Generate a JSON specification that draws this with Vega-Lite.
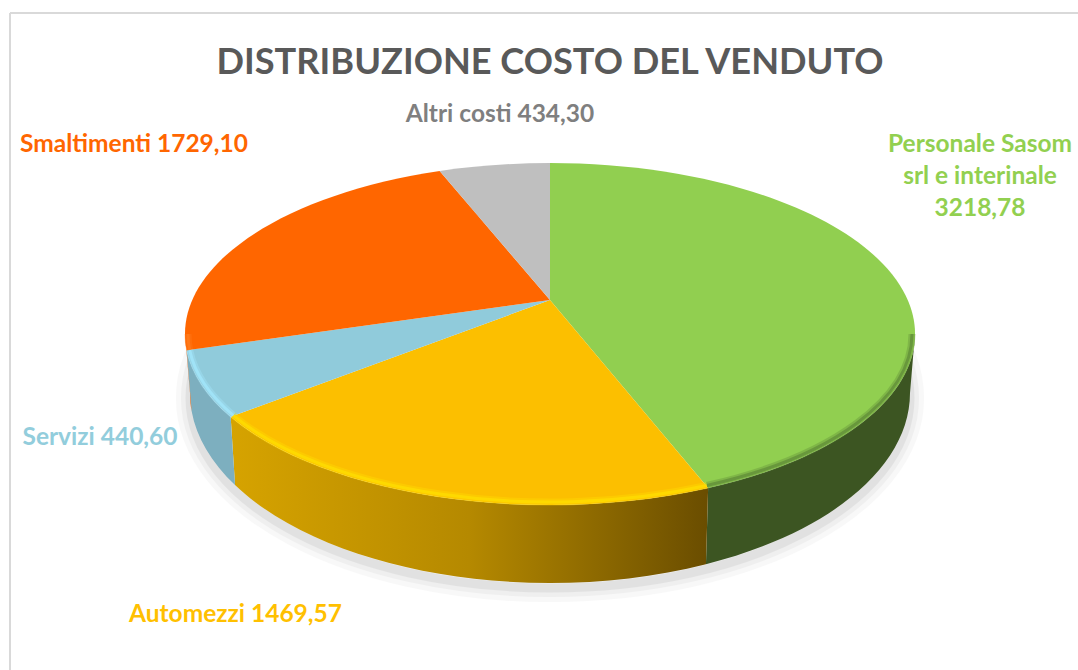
{"$schema":"https://vega.github.io/schema/vega-lite/v6.json","width":1078,"height":670,"padding":0,"autosize":{"type":"none"},"background":"white","config":{"view":{"stroke":null}},
"title":{"text":"DISTRIBUZIONE COSTO DEL VENDUTO","font":"Lato","fontSize":36.2,"fontWeight":"bold","color":"#595959","anchor":"middle","frame":"group","offset":-81,"dx":11},
"data":{"values":[
{"name":"Personale","order":1,"value":3218.78,"label":"Personale Sasom\nsrl e interinale\n3218,78"},
{"name":"Automezzi","order":2,"value":1469.57,"label":"Automezzi 1469,57"},
{"name":"Servizi","order":3,"value":440.60,"label":"Servizi 440,60"},
{"name":"Smaltimenti","order":4,"value":1729.10,"label":"Smaltimenti 1729,10"},
{"name":"Altri costi","order":5,"value":434.30,"label":"Altri costi 434,30"}]},
"transform":[
{"window":[{"op":"sum","field":"value","as":"cum"}],"sort":[{"field":"order"}]},
{"joinaggregate":[{"op":"sum","field":"value","as":"total"}]},
{"calculate":"2*PI*(datum.cum-datum.value)/datum.total","as":"t1"},
{"calculate":"2*PI*datum.cum/datum.total","as":"t2"},
{"calculate":"357.7*sin(datum.t1)/(1+0.199*cos(datum.t1))","as":"x1"},
{"calculate":"-164.2*cos(datum.t1)/(1+0.199*cos(datum.t1))","as":"y1"},
{"calculate":"357.7*sin(datum.t2)/(1+0.199*cos(datum.t2))","as":"x2"},
{"calculate":"-164.2*cos(datum.t2)/(1+0.199*cos(datum.t2))","as":"y2"},
{"calculate":"atan2(datum.x1/365,(34-datum.y1)/171)","as":"f1r"},
{"calculate":"atan2(datum.x2/365,(34-datum.y2)/171)","as":"f2r"},
{"calculate":"datum.f1r<0?datum.f1r+2*PI:datum.f1r","as":"f1"},
{"calculate":"datum.f2r<0?datum.f2r+2*PI:datum.f2r","as":"f2"},
{"calculate":"'M0 0L'+(365*sin(datum.f1))+' '+(34-171*cos(datum.f1))+'A365 171 0 '+(datum.f2-datum.f1>PI?1:0)+' 1 '+(365*sin(datum.f2))+' '+(34-171*cos(datum.f2))+'Z'","as":"face"},
{"calculate":"max(datum.f1,PI/2)","as":"s"},
{"calculate":"min(datum.f2,3*PI/2)","as":"e"},
{"calculate":"'M'+(365*sin(datum.s))+' '+(34-171*cos(datum.s))+'A365 171 0 0 1 '+(365*sin(datum.e))+' '+(34-171*cos(datum.e))+'L'+(360*sin(datum.e))+' '+(93-190*cos(datum.e))+'A360 190 0 0 0 '+(360*sin(datum.s))+' '+(93-190*cos(datum.s))+'Z'","as":"wall"},
{"calculate":"'M'+(362*sin(datum.s))+' '+(34-168*cos(datum.s))+'A362 168 0 0 1 '+(362*sin(datum.e))+' '+(34-168*cos(datum.e))","as":"rim"},
{"calculate":"{'Personale':430,'Automezzi':-314.5,'Servizi':-450,'Smaltimenti':-416,'Altri costi':-50}[datum.name]","as":"lx"},
{"calculate":"{'Personale':-155,'Automezzi':315,'Servizi':138,'Smaltimenti':-155,'Altri costi':-185}[datum.name]","as":"ly"}
],
"layer":[
{"encoding":{
"x":{"datum":0,"type":"quantitative","scale":{"domain":[-550,528],"range":[0,1078],"nice":false,"zero":false},"axis":null},
"y":{"datum":0,"type":"quantitative","scale":{"domain":[-300,370],"range":[0,670],"nice":false,"zero":false},"axis":null}
},
"layer":[
{"data":{"values":[{}]},"mark":{"type":"rule","color":"#d9d9d9","strokeWidth":2},"encoding":{"x":{"datum":-540,"type":"quantitative"},"y":{"datum":-287,"type":"quantitative"},"y2":{"datum":370}}},
{"data":{"values":[{}]},"mark":{"type":"rule","color":"#d9d9d9","strokeWidth":2},"encoding":{"x":{"datum":-540,"type":"quantitative"},"x2":{"datum":528},"y":{"datum":-287,"type":"quantitative"}}},
{"data":{"values":[{}]},"mark":{"type":"point","filled":false,"stroke":"#000000","strokeWidth":28,"opacity":0.025,"size":4,"shape":"M360 98A360 190 0 1 1 -360 98A360 190 0 1 1 360 98Z"},"encoding":{}},
{"data":{"values":[{}]},"mark":{"type":"point","filled":false,"stroke":"#000000","strokeWidth":18,"opacity":0.03,"size":4,"shape":"M360 98A360 190 0 1 1 -360 98A360 190 0 1 1 360 98Z"},"encoding":{}},
{"data":{"values":[{}]},"mark":{"type":"point","filled":false,"stroke":"#000000","strokeWidth":9,"opacity":0.05,"size":4,"shape":"M360 98A360 190 0 1 1 -360 98A360 190 0 1 1 360 98Z"},"encoding":{}},
{"transform":[{"filter":"datum.name==='Personale'"}],"mark":{"type":"point","filled":true,"opacity":1,"size":4,"fill":"#3c5522"},"encoding":{"shape":{"field":"wall","type":"nominal","scale":null,"legend":null}}},
{"transform":[{"filter":"datum.name==='Automezzi'"}],"mark":{"type":"point","filled":true,"opacity":1,"size":4,"fill":{"x1":0,"y1":0,"x2":1,"y2":0,"gradient":"linear","stops":[{"offset":0,"color":"#d6a300"},{"offset":0.5,"color":"#b58900"},{"offset":1,"color":"#6a4d00"}]}},"encoding":{"shape":{"field":"wall","type":"nominal","scale":null,"legend":null}}},
{"transform":[{"filter":"datum.name==='Servizi'"}],"mark":{"type":"point","filled":true,"opacity":1,"size":4,"fill":"#7dafbf"},"encoding":{"shape":{"field":"wall","type":"nominal","scale":null,"legend":null}}},
{"transform":[{"filter":"datum.name==='Smaltimenti'"}],"mark":{"type":"point","filled":true,"opacity":1,"size":4,"fill":"#d85a00"},"encoding":{"shape":{"field":"wall","type":"nominal","scale":null,"legend":null}}},
{"mark":{"type":"point","filled":true,"opacity":1,"size":4},"encoding":{"shape":{"field":"face","type":"nominal","scale":null,"legend":null},"fill":{"field":"name","type":"nominal","scale":{"domain":["Personale","Automezzi","Servizi","Smaltimenti","Altri costi"],"range":["#91cf50","#fcbf00","#90cbdb","#ff6600","#bfbfbf"]},"legend":null}}},
{"transform":[{"filter":"datum.f2>PI/2&&datum.f1<3*PI/2"}],"mark":{"type":"point","filled":false,"opacity":0.35,"size":4,"strokeWidth":7},"encoding":{"shape":{"field":"rim","type":"nominal","scale":null,"legend":null},"stroke":{"field":"name","type":"nominal","scale":{"domain":["Personale","Automezzi","Servizi","Smaltimenti","Altri costi"],"range":["#5f8a38","#ffe000","#a5e9ff","#ff7f20","#bfbfbf"]},"legend":null}}},
{"transform":[{"filter":"datum.f2>PI/2&&datum.f1<3*PI/2"}],"mark":{"type":"point","filled":false,"opacity":0.7,"size":4,"strokeWidth":3},"encoding":{"shape":{"field":"rim","type":"nominal","scale":null,"legend":null},"stroke":{"field":"name","type":"nominal","legend":null}}}
]},
{"mark":{"type":"text","font":"Lato","fontWeight":"bold","fontSize":24.5,"lineBreak":"\n","lineHeight":32,"align":"center","baseline":"middle"},"encoding":{
"x":{"field":"lx","type":"quantitative","scale":{"domain":[-550,528],"range":[0,1078],"nice":false,"zero":false},"axis":null},
"y":{"field":"ly","type":"quantitative","scale":{"domain":[-300,370],"range":[0,670],"nice":false,"zero":false},"axis":null},
"text":{"field":"label"},"color":{"field":"name","type":"nominal","scale":{"domain":["Personale","Automezzi","Servizi","Smaltimenti","Altri costi"],"range":["#92d050","#ffc000","#92cddc","#ff6600","#7f7f7f"]},"legend":null}}}
]}
